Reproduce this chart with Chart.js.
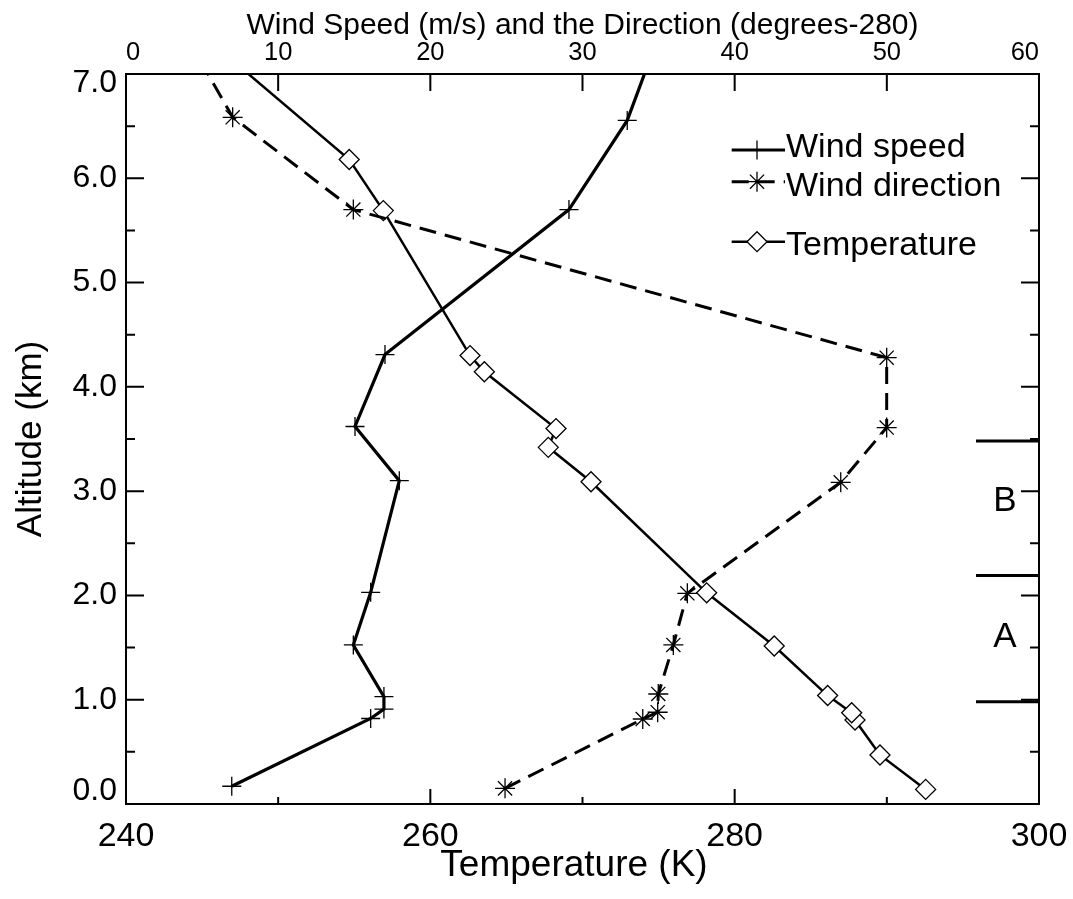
<!DOCTYPE html>
<html>
<head>
<meta charset="utf-8">
<title>Wind and temperature profile</title>
<script src="https://cdn.jsdelivr.net/npm/chart.js@4.4.1/dist/chart.umd.min.js"></script>
<style>
  html, body { margin: 0; padding: 0; background: #fff; }
  #wrap { width: 1073px; height: 899px; }
  canvas { display: block; }
</style>
</head>
<body>
<div id="wrap"><canvas id="profile" width="1073" height="899"></canvas></div>
<script>
// ---- Sounding data (altitude in km) ----
// Wind speed (m/s), read on the top axis
const windSpeedAlt = [0.17, 0.82, 0.91, 1.03, 1.525, 2.03, 3.10, 3.62, 4.31, 5.70, 6.555, 7.20];
const windSpeed    = [6.95, 16.08, 16.95, 16.95, 14.94, 16.08, 17.96, 15.05, 17.02, 29.11, 32.94, 34.58];

// Wind direction (degrees - 280), read on the top axis
const windDirAlt = [0.15, 0.815, 0.88, 1.055, 1.525, 2.02, 3.085, 3.61, 4.28, 5.70, 6.585, 7.10];
const windDir    = [24.91, 33.96, 34.94, 34.98, 35.97, 36.89, 46.97, 49.99, 49.99, 14.94, 7.01, 5.00];

// Temperature (K), read on the bottom axis
const tempAlt     = [0.14, 0.47, 0.805, 0.875, 1.04, 1.515, 2.025, 3.09, 3.42, 3.60, 4.145, 4.30, 5.69, 6.18, 7.10];
const temperature = [292.55, 289.55, 287.91, 287.69, 286.11, 282.60, 278.16, 270.56, 267.75, 268.26, 263.55, 262.61, 256.91, 254.67, 247.24];

// ---- Axis tick labels ----
const altitudeTicks = [0, 1, 2, 3, 4, 5, 6, 7];
const tempTicks     = [240, 260, 280, 300];
const windTicks     = [0, 10, 20, 30, 40, 50, 60];

// ---- Layer markers on the right edge ----
const layerBoundaryAlt = [0.98, 2.19, 3.48];
const layerBoundaryFromT = 295.86;
const layerNames   = ['A', 'B'];
const layerNameAlt = [1.60, 2.90];
const layerNameT   = 297.76;

const FONT = "'Liberation Sans', Arial, Helvetica, sans-serif";
const INK = '#000';

const toPoints = (xs, ys) => xs.map((v, i) => ({ x: v, y: ys[i] }));

// Frame ticks, labels, layer marks and legend
const profileDecor = {
  id: 'profileDecor',
  afterDraw(chart) {
    const { ctx, chartArea: a, scales } = chart;
    const sx = scales.x, sw = scales.x2, sy = scales.y;
    ctx.save();

    // inward tick marks
    ctx.strokeStyle = INK;
    ctx.lineWidth = 2;
    ctx.beginPath();
    for (let v = 10; v < 60; v += 10) {
      const px = sw.getPixelForValue(v);
      ctx.moveTo(px, a.top); ctx.lineTo(px, a.top + 17);
    }
    for (let v = 250; v < 300; v += 10) {
      const px = sx.getPixelForValue(v);
      const len = (v % 20 === 0) ? 15 : 7;
      ctx.moveTo(px, a.bottom); ctx.lineTo(px, a.bottom - len);
    }
    for (let v = 0.5; v < 7; v += 0.5) {
      const py = sy.getPixelForValue(v);
      const len = Number.isInteger(v) ? 18 : 9;
      ctx.moveTo(a.left, py); ctx.lineTo(a.left + len, py);
      ctx.moveTo(a.right, py); ctx.lineTo(a.right - len, py);
    }
    ctx.stroke();

    // altitude tick labels, end labels kept inside the frame
    ctx.fillStyle = INK;
    ctx.font = '32px ' + FONT;
    ctx.textAlign = 'right';
    ctx.textBaseline = 'middle';
    altitudeTicks.forEach(v => {
      let py = sy.getPixelForValue(v);
      py = Math.min(Math.max(py, a.top + 9), a.bottom - 13);
      ctx.fillText(v.toFixed(1), a.left - 9, py);
    });

    // bottom axis title
    ctx.font = '37px ' + FONT;
    ctx.textAlign = 'center';
    ctx.fillText('Temperature (K)', (a.left + a.right) / 2 - 8.5, 866);

    // layer boundaries and names
    ctx.lineWidth = 3;
    ctx.beginPath();
    const x0 = sx.getPixelForValue(layerBoundaryFromT);
    layerBoundaryAlt.forEach(v => {
      const py = sy.getPixelForValue(v);
      ctx.moveTo(x0, py); ctx.lineTo(a.right, py);
    });
    ctx.stroke();
    ctx.font = '35px ' + FONT;
    layerNames.forEach((name, i) => {
      ctx.fillText(name, sx.getPixelForValue(layerNameT), sy.getPixelForValue(layerNameAlt[i]));
    });

    // legend: line sample with marker, then label
    const rows = [
      { line: 150, text: 156.7 },
      { line: 181.7, text: 196 },
      { line: 241.7, text: 255 }
    ];
    const lx0 = 731.7, lx1 = 785, mx = 757;
    ctx.font = '34px ' + FONT;
    ctx.textAlign = 'left';
    ctx.textBaseline = 'alphabetic';
    chart.data.datasets.forEach((ds, i) => {
      const r = rows[i];
      ctx.save();
      ctx.strokeStyle = INK;
      ctx.lineWidth = ds.borderWidth;
      ctx.setLineDash(ds.borderDash || []);
      ctx.beginPath();
      ctx.moveTo(lx0, r.line); ctx.lineTo(lx1, r.line);
      ctx.stroke();
      ctx.setLineDash([]);
      ctx.lineWidth = ds.pointBorderWidth;
      ctx.fillStyle = ds.pointBackgroundColor;
      Chart.helpers.drawPoint(ctx, {
        pointStyle: ds.pointStyle, radius: ds.pointRadius,
        rotation: 0, borderWidth: ds.pointBorderWidth
      }, mx, r.line);
      ctx.restore();
      ctx.fillStyle = INK;
      ctx.fillText(ds.label, lx1 + 1, r.text);
    });

    ctx.restore();
  }
};

const borderStyle = { display: true, color: INK, width: 2 };
const noGrid = { display: false, drawTicks: false };

// fixed axis boxes so the plot frame sits where it should
const fixHeight = h => s => { s.height = h; s.paddingLeft = 0; s.paddingRight = 0; };
const fixWidth = w => s => { s.width = w; s.paddingTop = 0; s.paddingBottom = 0; };

new Chart(document.getElementById('profile'), {
  type: 'line',
  data: {
    datasets: [
      {
        label: 'Wind speed',
        data: toPoints(windSpeed, windSpeedAlt),
        xAxisID: 'x2', yAxisID: 'y',
        borderColor: INK, borderWidth: 3.2, tension: 0, clip: 0,
        pointStyle: 'cross', pointRadius: 9.5, pointBorderWidth: 1.3,
        pointBorderColor: INK, pointBackgroundColor: INK
      },
      {
        label: 'Wind direction',
        data: toPoints(windDir, windDirAlt),
        xAxisID: 'x2', yAxisID: 'y',
        borderColor: INK, borderWidth: 3, borderDash: [17, 9], tension: 0, clip: 0,
        pointStyle: 'star', pointRadius: 10, pointBorderWidth: 1.3,
        pointBorderColor: INK, pointBackgroundColor: INK
      },
      {
        label: 'Temperature',
        data: toPoints(temperature, tempAlt),
        xAxisID: 'x', yAxisID: 'y',
        borderColor: INK, borderWidth: 2.5, tension: 0, clip: 0,
        pointStyle: 'rectRot', pointRadius: 10, pointBorderWidth: 1.3,
        pointBorderColor: INK, pointBackgroundColor: '#fff'
      }
    ]
  },
  options: {
    responsive: false,
    animation: false,
    devicePixelRatio: 1,
    layout: { padding: 0 },
    plugins: { legend: { display: false }, tooltip: { enabled: false } },
    scales: {
      x: {
        type: 'linear', position: 'bottom', min: 240, max: 300,
        grid: noGrid, border: borderStyle,
        ticks: { color: INK, font: { family: FONT, size: 34 }, padding: 12.5, autoSkip: false, maxRotation: 0 },
        afterBuildTicks: s => { s.ticks = tempTicks.map(v => ({ value: v })); },
        afterFit: fixHeight(95)
      },
      x2: {
        type: 'linear', position: 'top', min: 0, max: 60,
        grid: noGrid, border: borderStyle,
        ticks: { color: INK, font: { family: FONT, size: 25.5 }, padding: 6, align: 'inner', autoSkip: false, maxRotation: 0 },
        afterBuildTicks: s => { s.ticks = windTicks.map(v => ({ value: v })); },
        title: {
          display: true, text: 'Wind Speed (m/s) and the Direction (degrees-280)',
          color: INK, font: { family: FONT, size: 30 }, padding: { top: 7.5, bottom: 0 }
        },
        afterFit: fixHeight(74)
      },
      y: {
        type: 'linear', position: 'left', min: 0, max: 7,
        grid: noGrid, border: borderStyle,
        ticks: { display: false },
        title: {
          display: true, text: 'Altitude (km)',
          color: INK, font: { family: FONT, size: 35 }, padding: { top: 10, bottom: 0 }
        },
        afterFit: fixWidth(126)
      },
      y2: {
        type: 'linear', position: 'right', min: 0, max: 7,
        grid: noGrid, border: borderStyle,
        ticks: { display: false },
        afterFit: fixWidth(34)
      }
    }
  },
  plugins: [profileDecor]
});
</script>
</body>
</html>
